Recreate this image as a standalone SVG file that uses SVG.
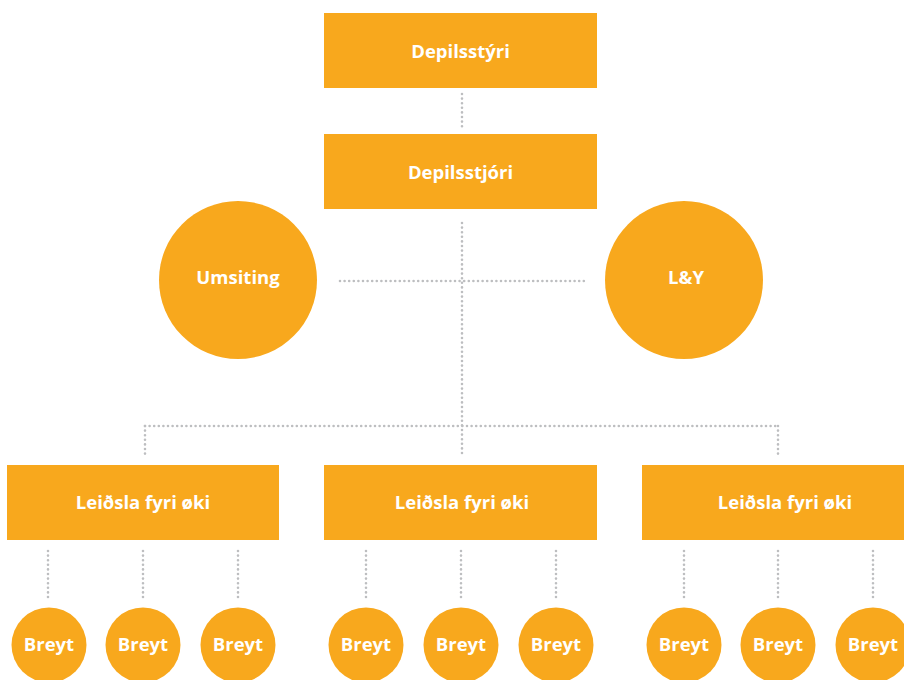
<svg xmlns="http://www.w3.org/2000/svg" width="904" height="680" viewBox="0 0 904 680">
<style>
.box{fill:#F8A81D}
.t{fill:#fff;font-family:"Open Sans","Noto Sans","DejaVu Sans",sans-serif;font-weight:bold;font-size:18.5px;text-anchor:middle;dominant-baseline:central}
.d{stroke:#BDBEC0;stroke-width:2.6;stroke-linecap:round;stroke-dasharray:0 4.6;fill:none}
</style>
<rect width="904" height="680" fill="#fff"/>
<g id="connectors">
<path class="d" d="M462 94V128"/>
<path class="d" d="M462 223V456"/>
<path class="d" d="M340 281H585"/>
<path class="d" d="M145 426H778"/>
<path class="d" d="M145 426V457"/>
<path class="d" d="M778 426V457"/>
<path class="d" d="M48 551V597M143 551V597M238 551V597"/>
<path class="d" d="M366 551V597M461 551V597M556 551V597"/>
<path class="d" d="M684 551V597M778 551V597M873 551V597"/>
</g>
<g id="n-depilsstyri"><rect class="box" x="324" y="13" width="273" height="75"/><text class="t" x="460.5" y="50">Depilsstýri</text></g>
<g id="n-depilsstjori"><rect class="box" x="324" y="134" width="273" height="75"/><text class="t" x="460.5" y="171">Depilsstjóri</text></g>
<g id="n-umsiting"><circle class="box" cx="238" cy="280" r="79"/><text class="t" x="238" y="276">Umsiting</text></g>
<g id="n-ly"><circle class="box" cx="684" cy="280" r="79"/><text class="t" x="686" y="276">L&amp;Y</text></g>
<g id="n-leidsla1"><rect class="box" x="7" y="465" width="272" height="75"/><text class="t" x="143" y="501">Leiðsla fyri øki</text></g>
<g id="n-leidsla2"><rect class="box" x="324" y="465" width="273" height="75"/><text class="t" x="462" y="501">Leiðsla fyri øki</text></g>
<g id="n-leidsla3"><rect class="box" x="642" y="465" width="262" height="75"/><text class="t" x="785" y="501">Leiðsla fyri øki</text></g>
<g id="n-b1"><circle class="box" cx="49" cy="645" r="37.5"/><text class="t" x="49" y="643">Breyt</text></g>
<g id="n-b2"><circle class="box" cx="143" cy="645" r="37.5"/><text class="t" x="143" y="643">Breyt</text></g>
<g id="n-b3"><circle class="box" cx="238" cy="645" r="37.5"/><text class="t" x="238" y="643">Breyt</text></g>
<g id="n-b4"><circle class="box" cx="366" cy="645" r="37.5"/><text class="t" x="366" y="643">Breyt</text></g>
<g id="n-b5"><circle class="box" cx="461" cy="645" r="37.5"/><text class="t" x="461" y="643">Breyt</text></g>
<g id="n-b6"><circle class="box" cx="556" cy="645" r="37.5"/><text class="t" x="556" y="643">Breyt</text></g>
<g id="n-b7"><circle class="box" cx="684" cy="645" r="37.5"/><text class="t" x="684" y="643">Breyt</text></g>
<g id="n-b8"><circle class="box" cx="778" cy="645" r="37.5"/><text class="t" x="778" y="643">Breyt</text></g>
<g id="n-b9"><circle class="box" cx="873" cy="645" r="37.5"/><text class="t" x="873" y="643">Breyt</text></g>
</svg>
